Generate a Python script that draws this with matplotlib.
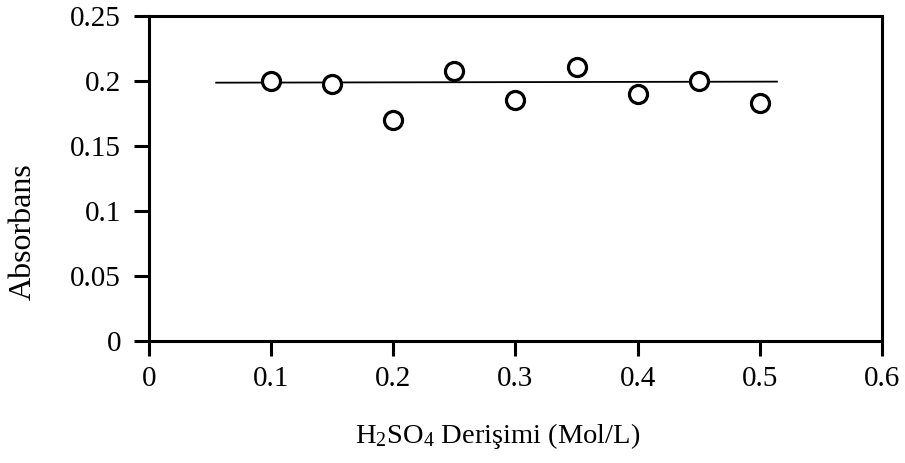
import matplotlib.pyplot as plt

plt.rcParams['font.family'] = ['Liberation Serif', 'DejaVu Serif']
plt.rcParams['mathtext.fontset'] = 'custom'
plt.rcParams['mathtext.rm'] = 'Liberation Serif'
plt.rcParams['mathtext.it'] = 'Liberation Serif:italic'

# Derişim (Mol/L) ve absorbans değerleri
derisim = [0.10, 0.15, 0.20, 0.25, 0.30, 0.35, 0.40, 0.45, 0.50]
absorbans = [0.200, 0.198, 0.170, 0.208, 0.185, 0.211, 0.190, 0.200, 0.183]

# Ortalama çizgisi
cizgi_x = [0.055, 0.514]
cizgi_y = [0.1987, 0.1995]

fig = plt.figure(figsize=(9.05, 4.63), dpi=100)
ax = fig.add_axes([0.1646, 0.2635, 0.81, 0.702])

ax.plot(cizgi_x, cizgi_y, color='black', linewidth=1.3)
ax.plot(derisim, absorbans, linestyle='none', marker='o', markersize=13,
        markerfacecolor='white', markeredgecolor='black', markeredgewidth=2.3)

ax.set_xlim(0, 0.6)
ax.set_ylim(0, 0.25)
ax.set_xticks([0, 0.1, 0.2, 0.3, 0.4, 0.5, 0.6])
ax.set_xticklabels(['0', '0.1', '0.2', '0.3', '0.4', '0.5', '0.6'])
ax.set_yticks([0, 0.05, 0.1, 0.15, 0.2, 0.25])
ax.set_yticklabels(['0', '0.05', '0.1', '0.15', '0.2', '0.25'])

for s in ax.spines.values():
    s.set_linewidth(2.2)

ax.tick_params(axis='both', direction='out', length=11, width=2.2,
               labelsize=21)
ax.tick_params(axis='x', pad=7)
ax.tick_params(axis='y', pad=9)

ax.set_xlabel(r'H$_2$SO$_4$ Derişimi (Mol/L)', fontsize=20.5)
ax.set_ylabel('Absorbans', fontsize=23)
ax.xaxis.set_label_coords(0.475, -0.245)
ax.yaxis.set_label_coords(-0.152, 0.338)

plt.savefig('out.png', dpi=100)
